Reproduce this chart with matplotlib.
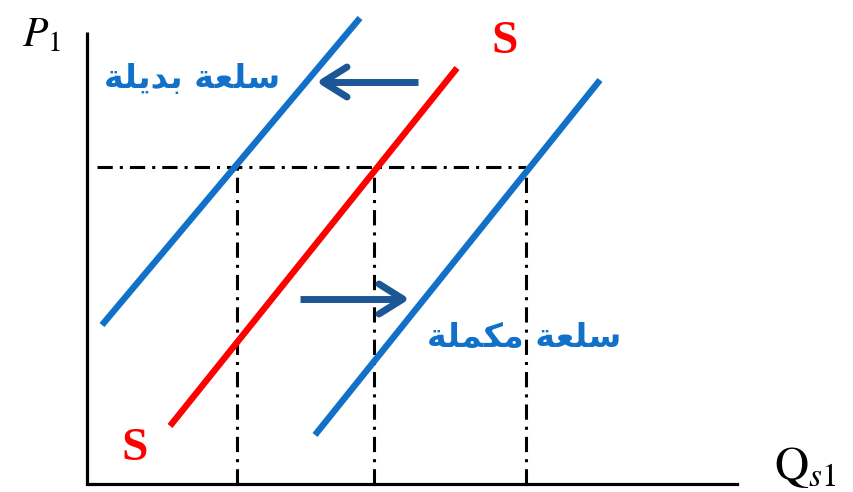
import matplotlib
matplotlib.use("Agg")
import matplotlib.pyplot as plt

# supply curves (x = quantity, y = price), origin at the axes corner
subst_x = [15, 273]
subst_y = [159, 466]
orig_x = [83, 370]
orig_y = [58, 416]
compl_x = [228, 513]
compl_y = [49, 404]

# price level and the quantities where it meets each curve
p1 = 317
q_levels = [150, 287, 439]

# shift arrows: (x_start, x_end, y)
shift_left = [331, 236, 402]
shift_right = [213, 316, 185]

# labels, Arabic in presentation forms, visual order
subst_label = "\uFE94\uFEE0\uFEF3\uFEAA\uFE91 \uFE94\uFECC\uFEE0\uFEB3"   # سلعة بديلة
compl_label = "\uFE94\uFEE0\uFEE4\uFEDC\uFEE3 \uFE94\uFECC\uFEE0\uFEB3"   # سلعة مكملة

plt.rcParams['mathtext.fontset'] = 'stix'

fig = plt.figure(figsize=(8.54, 4.92), dpi=100)
ax = fig.add_axes([0, 0, 1, 1])
ax.set_xlim(-87, 767)
ax.set_ylim(-8, 484)
ax.axis('off')

blue = '#1170C8'
red = '#FF0000'
arrow_col = '#1B5796'
dash = (0, (5, 2.3, 1, 2.3))

# axes
ax.plot([0, 0], [0, 452], color='black', lw=2.3, solid_capstyle='butt')
ax.plot([0, 650], [0, 0], color='black', lw=2.3, solid_capstyle='projecting')

# dashed guides
ax.plot([10, q_levels[-1]], [p1, p1], color='black', lw=2.2, linestyle=dash,
        dash_capstyle='butt')
for q in q_levels:
    ax.plot([q, q], [0, p1], color='black', lw=2.2, linestyle=dash,
            dash_capstyle='butt')

# curves
ax.plot(subst_x, subst_y, color=blue, lw=4.6, solid_capstyle='butt')
ax.plot(orig_x, orig_y, color=red, lw=4.6, solid_capstyle='butt')
ax.plot(compl_x, compl_y, color=blue, lw=4.6, solid_capstyle='butt')

# arrows
for x0, x1, y in [shift_left, shift_right]:
    d = 1 if x1 > x0 else -1
    ax.plot([x0, x1 - d * 3], [y, y], color=arrow_col, lw=5,
            solid_capstyle='butt')
    ax.plot([x1 - d * 24, x1, x1 - d * 24], [y + 15, y, y - 15],
            color=arrow_col, lw=5, solid_capstyle='round',
            solid_joinstyle='round')

# texts
ax.text(-46, 450, r'$P_1$', fontsize=30, ha='center', va='center')
ax.text(718, 16, r'$\mathrm{Q}_{s1}$', fontsize=34, ha='center', va='center')
ax.text(418, 442, 'S', color=red, fontsize=34, fontweight='bold',
        family='Liberation Serif', ha='center', va='center')
ax.text(48, 35, 'S', color=red, fontsize=34, fontweight='bold',
        family='Liberation Serif', ha='center', va='center')
ax.text(105, 406, subst_label, color=blue, fontsize=24, fontweight='bold',
        family=['DejaVu Sans'], ha='center', va='center')
ax.text(437, 146, compl_label, color=blue, fontsize=24, fontweight='bold',
        family=['DejaVu Sans'], ha='center', va='center')

fig.savefig('out.png', dpi=100, facecolor='white')
